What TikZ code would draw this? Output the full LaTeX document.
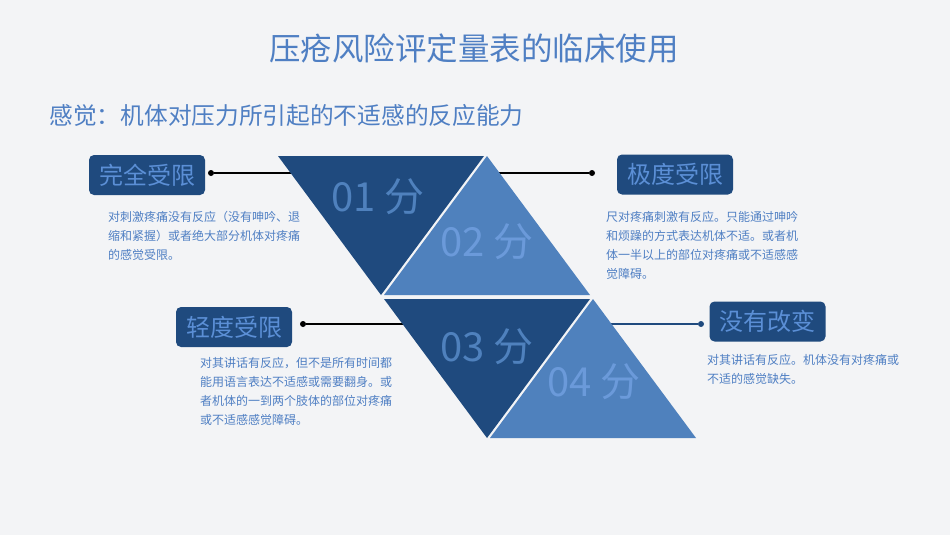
\documentclass[tikz,border=0pt]{standalone}
\usepackage{fontspec}
\setmainfont{Noto Sans CJK SC}
\usetikzlibrary{positioning}

\definecolor{navy}{HTML}{1F4A7E}
\definecolor{steel}{HTML}{4F81BD}
\definecolor{tagtext}{HTML}{5B8FD6}
\definecolor{desctext}{HTML}{4F7FC3}
\definecolor{paper}{HTML}{F3F4F6}

\begin{document}
\begin{tikzpicture}[
    x=1pt, y=-1pt,
    tag/.style={fill=navy, rounded corners=5pt, minimum width=116pt,
        minimum height=40pt, inner sep=0pt, text=tagtext,
        font=\fontsize{24}{28}\selectfont},
    desc/.style={anchor=north west, align=left, inner sep=0pt,
        text=desctext, font=\fontsize{12}{19}\selectfont},
    dot/.style={circle, fill=#1, inner sep=0pt, minimum size=6pt},
    dot/.default=black,
    score/.style={text=#1, font=\fontsize{40}{40}\selectfont},
    link/.style={line width=1.2pt}
]

    % Background
    \fill[paper] (0,0) rectangle (950,535);
    \useasboundingbox (0,0) rectangle (950,535);

    % Headings
    \node[text=desctext, font=\fontsize{31.5}{36}\selectfont] (title) at (474,48) {压疮风险评定量表的临床使用};
    \node[anchor=west, text=desctext, font=\fontsize{23.7}{28}\selectfont] (sub) at (46,115) {感觉：机体对压力所引起的不适感的反应能力};

    % Connector ends inside the triangles
    \coordinate (e1) at (300,173);
    \coordinate (e2) at (490,173);
    \coordinate (e3) at (415,324);
    \coordinate (e4) at (603,324);

    % Connectors
    \node[dot] (d1) at (211,173) {};
    \node[dot] (d2) at (592,173) {};
    \node[dot] (d3) at (303,324) {};
    \node[dot=navy] (d4) at (701,324) {};
    \draw[link] (d1) -- (e1);
    \draw[link] (e2) -- (d2);
    \draw[link] (d3) -- (e3);
    \draw[link, navy] (e4) -- (d4);

    % Triangles
    \fill[navy]  (278,156) -- (484,156) -- (381,295) -- cycle;
    \fill[steel] (487,156) -- (384,295) -- (590,295) -- cycle;
    \fill[navy]  (384,299) -- (590,299) -- (487,438) -- cycle;
    \fill[steel] (593,299) -- (490,438) -- (696,438) -- cycle;

    % Scores
    \node[score=steel] (s1) at (378,197) {01 分};
    \node[score=tagtext!90!white] (s2) at (487,242) {02 分};
    \node[score=steel] (s3) at (487,347) {03 分};
    \node[score=tagtext!90!white] (s4) at (594,382) {04 分};

    % Tags
    \node[tag] (t1) at (147,175) {完全受限};
    \node[tag] (t2) at (675,174.5) {极度受限};
    \node[tag] (t3) at (234,327) {轻度受限};
    \node[tag] (t4) at (767.5,321.5) {没有改变};

    % Descriptions
    \node[desc] (p1) at (108,211) {对刺激疼痛没有反应（没有呻吟、退\\缩和紧握）或者绝大部分机体对疼痛\\的感觉受限。};
    \node[desc] (p2) at (606,211) {尺对疼痛刺激有反应。只能通过呻吟\\和烦躁的方式表达机体不适。或者机\\体一半以上的部位对疼痛或不适感感\\觉障碍。};
    \node[desc] (p3) at (200,357) {对其讲话有反应，但不是所有时间都\\能用语言表达不适感或需要翻身。或\\者机体的一到两个肢体的部位对疼痛\\或不适感感觉障碍。};
    \node[desc] (p4) at (707,354) {对其讲话有反应。机体没有对疼痛或\\不适的感觉缺失。};

\end{tikzpicture}
\end{document}
